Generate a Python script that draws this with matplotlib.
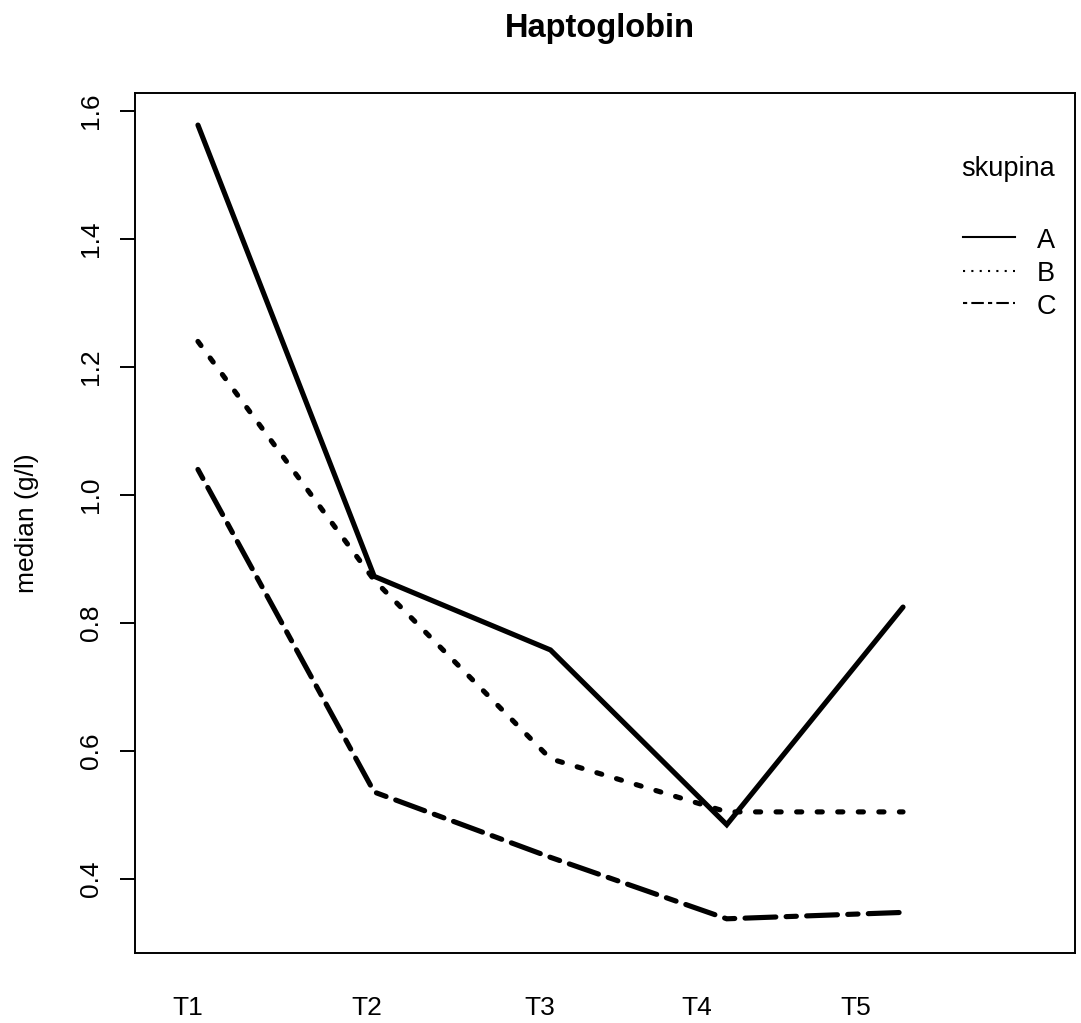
import matplotlib
matplotlib.use('Agg')
import matplotlib.pyplot as plt

plt.rcParams['font.family'] = ['Liberation Sans', 'DejaVu Sans']

# mediány haptoglobinu po skupinách a časech odběru
casy = ['T1', 'T2', 'T3', 'T4', 'T5']
x = [1, 2, 3, 4, 5]
pozice_popisku = [0.94, 1.96, 2.94, 3.83, 4.73]
skupina_A = [1.578, 0.873, 0.758, 0.485, 0.825]
skupina_B = [1.24, 0.867, 0.588, 0.505, 0.505]
skupina_C = [1.04, 0.536, 0.434, 0.338, 0.348]
skupiny = ['A', 'B', 'C']

fig = plt.figure(figsize=(10.81, 10.23), dpi=100)
ax = fig.add_axes([0.1249, 0.0687, 0.8696, 0.8407])

styly = [(None, None), (0, (1, 3)), (0, (2, 2, 6, 2))]
for hodnoty, dash in zip([skupina_A, skupina_B, skupina_C], styly):
    if dash[1] is None:
        ax.plot(x, hodnoty, color='black', lw=3.7, solid_capstyle='round',
                solid_joinstyle='miter')
    else:
        ax.plot(x, hodnoty, color='black', lw=3.7, linestyle=dash,
                dash_capstyle='round', dash_joinstyle='miter')

ax.set_xlim(0.643, 5.976)
ax.set_ylim(0.285, 1.6286)
ax.set_yticks([0.4, 0.6, 0.8, 1.0, 1.2, 1.4, 1.6])
ax.set_yticklabels(['0.4', '0.6', '0.8', '1.0', '1.2', '1.4', '1.6'],
                   rotation=90, va='center')
ax.set_xticks(pozice_popisku)
ax.set_xticklabels(casy)
ax.tick_params(axis='y', length=11, width=1.4, pad=12, labelsize=19)
ax.tick_params(axis='x', length=0, pad=31, labelsize=19)
for s in ax.spines.values():
    s.set_linewidth(1.4)

ax.set_ylabel('median (g/l)', fontsize=19, va='center')
ax.yaxis.set_label_coords(-0.115, 0.5)

fig.text(0.555, 0.972, 'Haptoglobin', ha='center', va='center',
         fontsize=23.5, fontweight='bold')

# legenda
ax.text(0.879, 0.911, 'skupina', transform=ax.transAxes, fontsize=19.5,
        ha='left', va='center')
leg_y = [0.832, 0.793, 0.755]
leg_styly = ['-', (0, (1, 3)), (0, (2, 2, 6, 2))]
for nazev, ly, st in zip(skupiny, leg_y, leg_styly):
    ax.plot([0.881, 0.936], [ly, ly], transform=ax.transAxes, color='black',
            lw=1.5, linestyle=st)
    ax.text(0.959, ly - 0.004, nazev, transform=ax.transAxes, fontsize=19.5,
            ha='left', va='center')

fig.savefig('out.png', dpi=100)
